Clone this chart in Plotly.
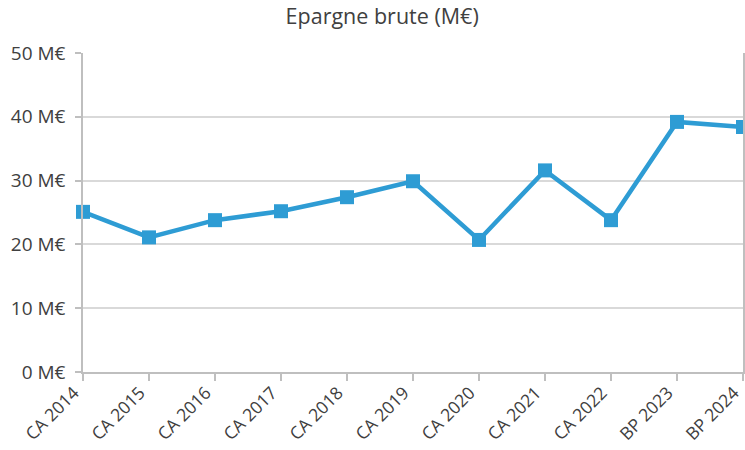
import plotly.graph_objects as go

categories = ["CA 2014", "CA 2015", "CA 2016", "CA 2017", "CA 2018", "CA 2019",
              "CA 2020", "CA 2021", "CA 2022", "BP 2023", "BP 2024"]
epargne_brute = [25.1, 21.1, 23.8, 25.2, 27.4, 29.9, 20.7, 31.6, 23.8, 39.2, 38.4]
y_ticks = [0, 10, 20, 30, 40, 50]
y_tick_labels = ["0 M€", "10 M€", "20 M€", "30 M€", "40 M€", "50 M€"]

FONT = "'Open Sans', sans-serif"
BLUE = "#2E9CD4"
TXT = "#404040"

fig = go.Figure()
fig.add_trace(go.Scatter(
    x=categories, y=epargne_brute, mode="lines+markers",
    line=dict(color=BLUE, width=4.5),
    marker=dict(symbol="square", size=14, color=BLUE),
    cliponaxis=False, showlegend=False,
))

fig.update_layout(
    width=745, height=450,
    margin=dict(l=83, r=2, t=53, b=78, autoexpand=False),
    paper_bgcolor="white", plot_bgcolor="white",
    title=dict(text="Epargne brute (M€)", x=0.513, xref="container", xanchor="center",
               y=0.964, yanchor="middle",
               font=dict(family=FONT, size=21.5, color=TXT)),
    font=dict(family=FONT, color=TXT),
)
fig.update_xaxes(
    type="category", range=[0, len(categories) - 1], automargin=False,
    tickangle=-45, ticks="outside", ticklen=7, tickcolor="#BFBFBF", tickwidth=1.5,
    ticklabelshift=-9, ticklabelstandoff=-5,
    showline=True, linecolor="#BFBFBF", linewidth=1.5,
    showgrid=False, tickfont=dict(family=FONT, size=17.5, color=TXT),
)
fig.update_yaxes(
    range=[0, 50], tickvals=y_ticks, ticktext=y_tick_labels, automargin=False,
    ticks="outside", ticklen=6, tickcolor="#BFBFBF", tickwidth=1.5,
    ticklabelstandoff=6,
    showline=True, linecolor="#BFBFBF", linewidth=1.5, mirror=True,
    showgrid=True, gridcolor="#D9D9D9", gridwidth=1.5, zeroline=False,
    tickfont=dict(family=FONT, size=19, color=TXT),
)

fig.write_html("out.html", config={"displayModeBar": False},
               post_script="document.body.style.margin='0';")
